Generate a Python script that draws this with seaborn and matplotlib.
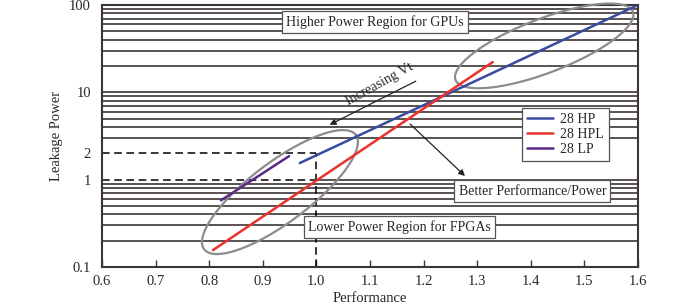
import numpy as np
import pandas as pd
import matplotlib.pyplot as plt
import seaborn as sns

# Data (Performance vs Leakage Power, log y)
series_names = ['28 HP', '28 HPL', '28 LP']
hp_perf = [0.969, 1.6]
hp_leak = [1.55, 100]
hpl_perf = [0.807, 1.329]
hpl_leak = [0.156, 22.2]
lp_perf = [0.822, 0.949]
lp_leak = [0.58, 1.86]
line_colors = ['#3a4a9e', '#e8322b', '#5b2a88']

x_ticks = [0.6, 0.7, 0.8, 0.9, 1.0, 1.1, 1.2, 1.3, 1.4, 1.5, 1.6]
y_ticks = [0.1, 1, 2, 10, 100]
y_ticklabels = ['0.1', '1', '2', '10', '100']

df = pd.DataFrame({
    'perf': hp_perf + hpl_perf + lp_perf,
    'leak': hp_leak + hpl_leak + lp_leak,
    'node': [series_names[0]] * 2 + [series_names[1]] * 2 + [series_names[2]] * 2,
})

sns.set_style('white')
plt.rcParams['font.family'] = ['Liberation Serif', 'DejaVu Serif']
dark = '#3d3535'

fig = plt.figure(figsize=(7, 3.08), dpi=100)
ax = fig.add_axes([102 / 700, 41 / 308, 536 / 700, 262 / 308])
ax.set_yscale('log')
ax.set_xlim(0.6, 1.6)
ax.set_ylim(0.1, 100)

# horizontal grid: every 1..9 x decade, y=2 and left part of y=1 replaced by dashes
for dec in [0.1, 1, 10]:
    for m in range(1, 10):
        v = dec * m
        if v == 2:
            continue
        if v == 1:
            ax.hlines(1, 1.0, 1.6, color=dark, lw=1.2, zorder=1)
            continue
        ax.axhline(v, color=dark, lw=1.2, zorder=1)

ax.hlines([1, 2], 0.6, 1.0, color='black', lw=1.1, ls=(0, (5, 3)), zorder=2)
ax.vlines(1.0, 0.1, 2, color='black', lw=1.1, ls=(0, (5, 3)), zorder=2)

sns.lineplot(data=df, x='perf', y='leak', hue='node', palette=line_colors,
             lw=1.8, ax=ax, zorder=4, estimator=None, sort=False)

# ellipses drawn in axes fraction, sized in pixels
bbox_w, bbox_h = 536, 262
def draw_ellipse(cx, cy, a, b, ang):
    t = np.linspace(0, 2 * np.pi, 200)
    th = np.deg2rad(ang)
    fx = cx + (a * np.cos(t) * np.cos(th) - b * np.sin(t) * np.sin(th)) / bbox_w
    fy = cy + (a * np.cos(t) * np.sin(th) + b * np.sin(t) * np.cos(th)) / bbox_h
    ax.plot(fx, fy, color='#8c8c8c', lw=1.6, transform=ax.transAxes, zorder=3,
            clip_on=False)

draw_ellipse(0.332, 0.286, 95, 30, 37)
draw_ellipse(0.825, 0.844, 95, 27, 21)

box = dict(boxstyle='square,pad=0.3', fc='white', ec='#555555', lw=0.9)
ax.text(0.509, 0.934, 'Higher Power Region for GPUs', transform=ax.transAxes,
        ha='center', va='center', fontsize=10, bbox=box, zorder=6)
ax.text(0.555, 0.153, 'Lower Power Region for FPGAs', transform=ax.transAxes,
        ha='center', va='center', fontsize=10, bbox=box, zorder=6)
ax.text(0.803, 0.290, 'Better Performance/Power', transform=ax.transAxes,
        ha='center', va='center', fontsize=10, bbox=box, zorder=6)

arrow = dict(arrowstyle='-|>', color='#222222', lw=0.9, mutation_scale=9)
ax.annotate('', xy=(0.420, 0.538), xytext=(0.590, 0.714),
            xycoords='axes fraction', arrowprops=arrow, zorder=5)
ax.annotate('', xy=(0.681, 0.340), xytext=(0.571, 0.553),
            xycoords='axes fraction', arrowprops=arrow, zorder=5)
ax.text(0.518, 0.697, 'Increasing Vt', transform=ax.transAxes, rotation=29,
        ha='center', va='center', fontsize=10, zorder=5)

leg = ax.legend(loc='upper left', bbox_to_anchor=(0.784, 0.607), borderaxespad=0,
                fontsize=10, handlelength=1.9, handletextpad=0.5, labelspacing=0.15,
                fancybox=False, framealpha=1, edgecolor='#555555', borderpad=0.35)
leg.get_frame().set_linewidth(0.9)
leg.set_zorder(6)

ax.set_xticks(x_ticks)
ax.set_xticklabels([f'{v:.1f}' for v in x_ticks])
ax.set_yticks(y_ticks)
ax.set_yticklabels(y_ticklabels)
ax.yaxis.set_minor_locator(plt.NullLocator())
ax.tick_params(axis='x', direction='in', length=5, width=1, color=dark,
               labelsize=10.5, pad=6, bottom=True)
ax.tick_params(axis='y', length=0, labelsize=10.5, pad=8)
for s in ax.spines.values():
    s.set_color(dark)
    s.set_linewidth(1.5)

ax.set_xlabel('Performance', fontsize=10.5, labelpad=3)
ax.set_ylabel('Leakage Power', fontsize=10.5, labelpad=4)

fig.savefig('out.png', dpi=100)
